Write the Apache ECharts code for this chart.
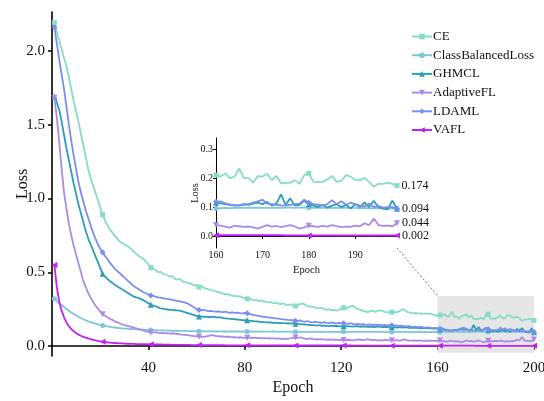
<!DOCTYPE html>
<html>
<head>
<meta charset="utf-8">
<script src="https://cdn.jsdelivr.net/npm/echarts@6/dist/echarts.min.js"></script>
<style>html,body{margin:0;padding:0;background:#fff;}#c{width:544px;height:401px;}</style>
</head>
<body>
<div id="c"></div>
<script>
// ---------- data (epochs 1..200) ----------
const seriesNames = ['CE', 'ClassBalancedLoss', 'GHMCL', 'AdaptiveFL', 'LDAML', 'VAFL'];
const xTickLabels = [40, 80, 120, 160, 200];
const yTickLabels = [0, 0.5, 1.0, 1.5, 2.0];
const insetXTickLabels = [160, 170, 180, 190];
const insetYTickLabels = [0, 0.1, 0.2, 0.3];

const ce = [
2.19,2.13,2.07,2.01,1.95,1.90,1.82,1.74,1.66,1.59,
1.52,1.44,1.36,1.28,1.20,1.14,1.09,1.04,0.99,0.94,
0.89,0.85,0.82,0.79,0.77,0.75,0.73,0.71,0.70,0.69,
0.68,0.67,0.655,0.64,0.625,0.61,0.60,0.59,0.57,0.555,
0.53,0.525,0.515,0.50,0.505,0.49,0.485,0.48,0.47,0.475,
0.455,0.45,0.455,0.44,0.435,0.43,0.425,0.42,0.41,0.415,
0.40,0.405,0.395,0.39,0.385,0.38,0.375,0.37,0.365,0.36,
0.355,0.35,0.352,0.345,0.34,0.342,0.335,0.338,0.33,0.325,
0.32,0.322,0.315,0.31,0.312,0.305,0.31,0.30,0.302,0.295,
0.298,0.29,0.295,0.288,0.285,0.29,0.28,0.278,0.282,0.275,
0.272,0.278,0.285,0.29,0.28,0.27,0.268,0.265,0.262,0.258,
0.255,0.26,0.25,0.245,0.25,0.242,0.245,0.24,0.245,0.255,
0.26,0.255,0.262,0.27,0.272,0.26,0.25,0.245,0.238,0.235,
0.23,0.235,0.24,0.232,0.238,0.242,0.24,0.232,0.23,0.228,
0.23,0.232,0.228,0.235,0.245,0.25,0.235,0.228,0.225,0.222,
0.225,0.22,0.222,0.218,0.222,0.22,0.218,0.215,0.21,0.205,
0.21,0.205,0.216,0.2,0.205,0.233,0.2,0.2,0.184,0.207,
0.205,0.215,0.193,0.207,0.182,0.183,0.184,0.193,0.18,0.21,
0.216,0.187,0.186,0.187,0.195,0.207,0.187,0.19,0.21,0.205,
0.193,0.193,0.2,0.187,0.17,0.18,0.18,0.184,0.18,0.174
];
const classBalanced = [
0.32,0.305,0.29,0.278,0.265,0.252,0.24,0.228,0.217,0.207,
0.198,0.19,0.182,0.175,0.168,0.162,0.157,0.152,0.148,0.144,
0.14,0.137,0.134,0.131,0.128,0.126,0.124,0.122,0.12,0.119,
0.118,0.117,0.116,0.115,0.114,0.113,0.112,0.111,0.11,0.11,
0.109,0.108,0.108,0.107,0.107,0.106,0.106,0.105,0.105,0.104,
0.104,0.104,0.103,0.103,0.103,0.102,0.102,0.102,0.101,0.101,
0.101,0.1,0.101,0.1,0.1,0.101,0.1,0.099,0.1,0.1,
0.099,0.1,0.099,0.1,0.099,0.099,0.1,0.099,0.098,0.099,
0.099,0.098,0.099,0.098,0.099,0.098,0.098,0.099,0.098,0.098,
0.098,0.099,0.098,0.097,0.098,0.098,0.097,0.098,0.098,0.097,
0.098,0.097,0.098,0.097,0.097,0.098,0.097,0.097,0.098,0.097,
0.097,0.098,0.097,0.097,0.096,0.097,0.097,0.096,0.097,0.097,
0.097,0.096,0.097,0.097,0.096,0.097,0.096,0.096,0.097,0.096,
0.096,0.097,0.096,0.096,0.097,0.096,0.096,0.095,0.096,0.096,
0.096,0.095,0.096,0.096,0.095,0.096,0.096,0.095,0.096,0.095,
0.095,0.096,0.095,0.095,0.096,0.095,0.095,0.096,0.095,0.095,
0.095,0.096,0.097,0.096,0.097,0.098,0.097,0.098,0.097,0.098,
0.097,0.098,0.097,0.098,0.097,0.098,0.098,0.097,0.098,0.099,
0.098,0.097,0.098,0.097,0.098,0.097,0.098,0.097,0.098,0.097,
0.097,0.096,0.097,0.096,0.096,0.097,0.096,0.095,0.095,0.094
];
const ghmcl = [
1.69,1.65,1.60,1.52,1.43,1.34,1.26,1.18,1.10,1.03,
0.96,0.90,0.84,0.78,0.73,0.69,0.65,0.61,0.57,0.53,
0.49,0.47,0.455,0.44,0.43,0.415,0.405,0.395,0.385,0.375,
0.365,0.355,0.345,0.335,0.33,0.325,0.318,0.31,0.30,0.29,
0.28,0.275,0.27,0.262,0.256,0.254,0.25,0.248,0.246,0.245,
0.243,0.242,0.24,0.235,0.23,0.225,0.22,0.215,0.21,0.205,
0.20,0.202,0.198,0.2,0.197,0.196,0.199,0.195,0.194,0.195,
0.19,0.188,0.186,0.185,0.183,0.182,0.18,0.178,0.176,0.175,
0.175,0.172,0.17,0.168,0.167,0.165,0.164,0.163,0.161,0.16,
0.16,0.158,0.159,0.156,0.157,0.155,0.154,0.156,0.153,0.155,
0.152,0.15,0.148,0.147,0.146,0.145,0.143,0.142,0.141,0.14,
0.14,0.138,0.139,0.137,0.136,0.138,0.135,0.137,0.134,0.135,
0.135,0.136,0.133,0.134,0.132,0.135,0.133,0.131,0.134,0.132,
0.13,0.132,0.131,0.129,0.133,0.13,0.128,0.131,0.129,0.13,
0.13,0.128,0.126,0.129,0.127,0.125,0.128,0.124,0.126,0.123,
0.125,0.122,0.124,0.121,0.123,0.12,0.122,0.119,0.121,0.118,
0.115,0.113,0.11,0.108,0.105,0.107,0.11,0.108,0.112,0.115,
0.11,0.118,0.105,0.112,0.144,0.108,0.13,0.105,0.108,0.122,
0.11,0.105,0.1,0.108,0.098,0.105,0.11,0.1,0.108,0.095,
0.11,0.1,0.116,0.1,0.122,0.1,0.095,0.092,0.122,0.094
];
const adaptiveFL = [
1.68,1.55,1.38,1.20,1.04,0.93,0.83,0.75,0.68,0.62,
0.56,0.50,0.44,0.40,0.36,0.33,0.30,0.275,0.255,0.235,
0.215,0.205,0.195,0.185,0.178,0.168,0.162,0.155,0.148,0.142,
0.138,0.134,0.13,0.125,0.12,0.115,0.11,0.105,0.10,0.097,
0.093,0.092,0.095,0.09,0.088,0.09,0.087,0.088,0.085,0.087,
0.084,0.082,0.08,0.078,0.076,0.074,0.072,0.07,0.068,0.066,
0.064,0.062,0.063,0.066,0.07,0.075,0.072,0.068,0.067,0.065,
0.066,0.063,0.065,0.062,0.06,0.061,0.058,0.06,0.057,0.056,
0.056,0.058,0.055,0.057,0.054,0.056,0.053,0.055,0.052,0.054,
0.052,0.053,0.05,0.052,0.049,0.051,0.048,0.05,0.052,0.055,
0.058,0.055,0.06,0.054,0.05,0.048,0.052,0.049,0.046,0.048,
0.045,0.047,0.044,0.046,0.043,0.045,0.042,0.044,0.041,0.043,
0.041,0.04,0.043,0.041,0.039,0.042,0.045,0.043,0.04,0.042,
0.047,0.043,0.04,0.042,0.039,0.041,0.038,0.04,0.042,0.039,
0.04,0.038,0.041,0.037,0.039,0.045,0.04,0.038,0.037,0.039,
0.036,0.038,0.037,0.035,0.037,0.036,0.038,0.035,0.037,0.036,
0.038,0.036,0.033,0.029,0.036,0.034,0.032,0.033,0.030,0.026,
0.032,0.038,0.033,0.035,0.031,0.034,0.038,0.033,0.026,0.030,
0.036,0.034,0.032,0.035,0.033,0.038,0.034,0.031,0.033,0.032,
0.036,0.034,0.044,0.038,0.061,0.038,0.035,0.036,0.034,0.044
];
const ldaml = [
2.16,2.05,1.94,1.84,1.74,1.62,1.50,1.39,1.29,1.20,
1.11,1.04,0.98,0.92,0.87,0.82,0.77,0.73,0.69,0.66,
0.635,0.61,0.59,0.565,0.545,0.525,0.51,0.495,0.48,0.465,
0.45,0.435,0.42,0.405,0.395,0.385,0.375,0.365,0.358,0.35,
0.343,0.34,0.335,0.33,0.328,0.325,0.322,0.32,0.316,0.313,
0.31,0.306,0.303,0.3,0.296,0.29,0.282,0.272,0.262,0.252,
0.245,0.242,0.246,0.24,0.237,0.239,0.235,0.233,0.236,0.232,
0.23,0.233,0.228,0.226,0.229,0.225,0.227,0.224,0.222,0.225,
0.222,0.218,0.214,0.21,0.207,0.204,0.2,0.198,0.196,0.195,
0.192,0.19,0.188,0.186,0.183,0.181,0.179,0.177,0.176,0.175,
0.172,0.17,0.175,0.168,0.165,0.17,0.163,0.16,0.165,0.162,
0.16,0.158,0.162,0.157,0.155,0.16,0.156,0.152,0.158,0.155,
0.155,0.152,0.15,0.155,0.149,0.147,0.15,0.146,0.148,0.145,
0.144,0.147,0.143,0.145,0.142,0.146,0.141,0.143,0.14,0.142,
0.141,0.139,0.14,0.136,0.138,0.135,0.133,0.136,0.132,0.13,
0.131,0.128,0.13,0.127,0.125,0.127,0.124,0.122,0.124,0.12,
0.118,0.12,0.113,0.108,0.107,0.105,0.108,0.11,0.115,0.12,
0.125,0.112,0.11,0.108,0.106,0.105,0.108,0.11,0.112,0.125,
0.115,0.11,0.108,0.105,0.11,0.124,0.11,0.12,0.108,0.115,
0.11,0.105,0.102,0.112,0.1,0.104,0.098,0.1,0.1,0.094
];
const vafl = [
0.55,0.40,0.30,0.24,0.195,0.16,0.135,0.115,0.10,0.088,
0.078,0.07,0.063,0.057,0.052,0.047,0.043,0.039,0.035,0.032,
0.03,0.028,0.026,0.024,0.022,0.021,0.02,0.019,0.018,0.017,
0.016,0.016,0.015,0.015,0.014,0.014,0.013,0.013,0.013,0.012,
0.012,0.012,0.011,0.011,0.011,0.01,0.01,0.01,0.01,0.009,
0.009,0.009,0.009,0.008,0.008,0.008,0.008,0.007,0.007,0.007,
0.007,0.007,0.007,0.006,0.006,0.006,0.006,0.006,0.006,0.006,
0.006,0.005,0.005,0.005,0.005,0.005,0.005,0.005,0.005,0.005,
0.005,0.005,0.005,0.005,0.005,0.005,0.005,0.005,0.005,0.005,
0.005,0.005,0.004,0.004,0.004,0.004,0.004,0.004,0.004,0.004,
0.004,0.004,0.004,0.004,0.004,0.004,0.004,0.004,0.004,0.004,
0.004,0.004,0.004,0.004,0.004,0.004,0.004,0.004,0.004,0.004,
0.004,0.004,0.004,0.004,0.003,0.003,0.003,0.003,0.003,0.003,
0.003,0.003,0.003,0.003,0.003,0.003,0.003,0.003,0.003,0.003,
0.003,0.003,0.003,0.003,0.003,0.003,0.003,0.003,0.003,0.003,
0.003,0.003,0.003,0.003,0.003,0.003,0.003,0.003,0.003,0.003,
0.003,0.003,0.003,0.003,0.003,0.003,0.003,0.003,0.003,0.003,
0.003,0.003,0.003,0.003,0.003,0.002,0.002,0.002,0.002,0.002,
0.002,0.002,0.002,0.002,0.002,0.002,0.002,0.002,0.002,0.002,
0.002,0.002,0.002,0.002,0.002,0.002,0.002,0.002,0.002,0.002
];
const allValues = [ce, classBalanced, ghmcl, adaptiveFL, ldaml, vafl];
const insetLabelled = [true, false, true, true, false, true];
const insetStart = 160, insetEnd = 199;
const zoomBox = { y0: -0.045, y1: 0.34 };

// ---------- style ----------
const FONT = '"Liberation Serif","Times New Roman",serif';
const colors = ['#86dcc6', '#7ec6d9', '#2c9fb6', '#a98ce9', '#7b8ef0', '#c222f2'];
const symbols = ['rect', 'circle', 'triangle', 'triangle', 'diamond', 'triangle'];
const symRot = [0, 0, 0, 180, 0, 90];
const symSizes = [5, 5, 6, 6, 6, 6];

const epochs = ce.map((_, i) => i + 1);
const everyTwenty = (n) => (i) => (i % 20 === 0 || i === n - 1);

const series = [];
// gray zoom rectangle on the main axes
series.push({
  type: 'line', xAxisIndex: 0, yAxisIndex: 0, data: [], silent: true, z: 0,
  markArea: {
    silent: true,
    itemStyle: { color: '#e6e6e6' },
    data: [[{ coord: [insetStart, zoomBox.y0] }, { coord: [200, zoomBox.y1] }]]
  }
});
seriesNames.forEach((name, k) => {
  const vals = allValues[k];
  const mark = everyTwenty(vals.length);
  series.push({
    name, type: 'line', xAxisIndex: 0, yAxisIndex: 0, z: 2 + k,
    data: vals.map((v, i) => [epochs[i], v]),
    showSymbol: true, showAllSymbol: true,
    symbol: symbols[k], symbolRotate: symRot[k],
    symbolSize: (val, p) => mark(p.dataIndex) ? symSizes[k] : 0,
    lineStyle: { width: 1.8, color: colors[k] },
    itemStyle: { color: colors[k] },
    emphasis: { disabled: true }, animation: false
  });
});
seriesNames.forEach((name, k) => {
  const vals = allValues[k].slice(insetStart, insetEnd + 1);
  const mark = everyTwenty(vals.length);
  series.push({
    name, type: 'line', xAxisIndex: 1, yAxisIndex: 1, z: 2 + k,
    data: vals.map((v, i) => {
      const item = { value: [insetStart + i, v] };
      if (i === vals.length - 1 && insetLabelled[k]) {
        item.label = { show: true, position: 'right', distance: 2, formatter: v.toFixed(3),
          fontFamily: FONT, fontSize: 12, color: '#111' };
      }
      return item;
    }),
    showSymbol: true, showAllSymbol: true,
    symbol: symbols[k], symbolRotate: symRot[k],
    symbolSize: (val, p) => mark(p.dataIndex) ? symSizes[k] : 0,
    lineStyle: { width: 1.8, color: colors[k] },
    itemStyle: { color: colors[k] },
    emphasis: { disabled: true }, animation: false
  });
});

const axisBase = {
  axisLine: { show: true, lineStyle: { color: '#000', width: 1.6 } },
  splitLine: { show: false },
  nameMoveOverlap: false,
  nameTextStyle: { fontFamily: FONT, color: '#111' }
};

const option = {
  animation: false,
  backgroundColor: '#fff',
  textStyle: { fontFamily: FONT },
  grid: [
    { left: 52, right: 10, top: 12, bottom: 45, containLabel: false, outerBoundsMode: 'none' },
    { left: 216, right: 147, top: 138, bottom: 153, containLabel: false, outerBoundsMode: 'none' }
  ],
  legend: {
    data: seriesNames, orient: 'vertical', left: 406, top: 25,
    itemWidth: 20, itemHeight: 7, itemGap: 5.7,
    textStyle: { fontFamily: FONT, fontSize: 13, color: '#111', lineHeight: 13, padding: [0, 0, 0, -4] },
    selectedMode: false
  },
  xAxis: [
    Object.assign({}, axisBase, {
      type: 'value', gridIndex: 0, min: 0, max: 200,
      name: 'Epoch', nameLocation: 'middle', nameGap: 24,
      nameTextStyle: { fontFamily: FONT, fontSize: 16, color: '#111' },
      axisTick: { show: true, inside: false, length: 4, customValues: xTickLabels, lineStyle: { color: '#000', width: 1.5 } },
      axisLabel: { customValues: xTickLabels, fontFamily: FONT, fontSize: 15, color: '#111', margin: 5 }
    }),
    Object.assign({}, axisBase, {
      type: 'value', gridIndex: 1, min: insetStart, max: insetEnd,
      name: 'Epoch', nameLocation: 'middle', nameGap: 17,
      nameTextStyle: { fontFamily: FONT, fontSize: 10.5, color: '#111' },
      axisLine: { show: true, lineStyle: { color: '#000', width: 1 } },
      axisTick: { show: true, length: 3, customValues: insetXTickLabels, lineStyle: { color: '#000', width: 1 } },
      axisLabel: { customValues: insetXTickLabels, fontFamily: FONT, fontSize: 10, color: '#111', margin: 2 }
    })
  ],
  yAxis: [
    Object.assign({}, axisBase, {
      type: 'value', gridIndex: 0, min: -0.067, max: 2.263,
      name: 'Loss', nameLocation: 'middle', nameGap: 21, nameRotate: 90,
      nameTextStyle: { fontFamily: FONT, fontSize: 16, color: '#111' },
      axisTick: { show: true, length: 4, customValues: yTickLabels, lineStyle: { color: '#000', width: 1.5 } },
      axisLabel: { customValues: yTickLabels, formatter: (v) => v.toFixed(1), fontFamily: FONT, fontSize: 15, color: '#111', margin: 7 }
    }),
    Object.assign({}, axisBase, {
      type: 'value', gridIndex: 1, min: -0.041, max: 0.338,
      name: 'Loss', nameLocation: 'middle', nameGap: 15, nameRotate: 90,
      nameTextStyle: { fontFamily: FONT, fontSize: 10.5, color: '#111' },
      axisLine: { show: true, lineStyle: { color: '#000', width: 1 } },
      axisTick: { show: true, length: 3, customValues: insetYTickLabels, lineStyle: { color: '#000', width: 1 } },
      axisLabel: { customValues: insetYTickLabels, formatter: (v) => v.toFixed(1), fontFamily: FONT, fontSize: 10, color: '#111', margin: 3 }
    })
  ],
  series
};

const chart = echarts.init(document.getElementById('c'), null, { renderer: 'canvas' });
chart.setOption(option);

// dotted connector from inset corner to zoom rectangle corner
const pInset = chart.convertToPixel({ gridIndex: 1 }, [insetEnd, -0.041]);
const pBox = chart.convertToPixel({ gridIndex: 0 }, [insetStart, zoomBox.y1]);
chart.setOption({
  graphic: [{
    type: 'line', silent: true, z: 1,
    shape: { x1: pInset[0], y1: pInset[1], x2: pBox[0], y2: pBox[1] },
    style: { stroke: '#777', lineWidth: 1, lineDash: [2, 2] }
  }]
});
</script>
</body>
</html>
